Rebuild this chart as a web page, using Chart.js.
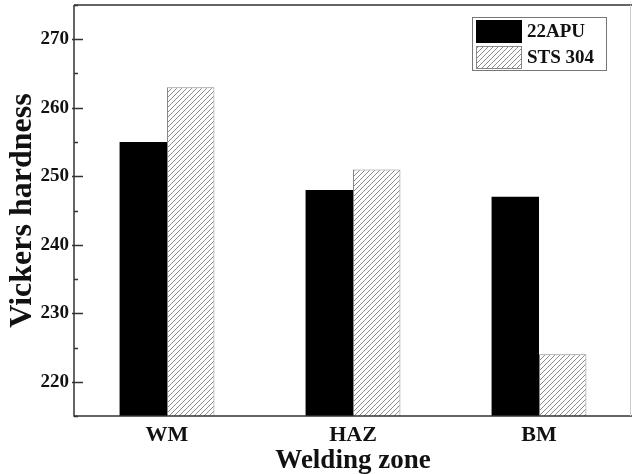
<!DOCTYPE html>
<html>
<head>
<meta charset="utf-8">
<script src="https://cdn.jsdelivr.net/npm/chart.js@4"></script>
<style>
  html, body { margin: 0; padding: 0; background: #fff; }
  #wrap { width: 632px; height: 474px; }
</style>
</head>
<body>
<div id="wrap"><canvas id="chart" width="632" height="474"></canvas></div>
<script>
const zones = ['WM', 'HAZ', 'BM'];
const apu22 = [255, 248, 247];
const sts304 = [263, 251, 224];
const seriesNames = ['22APU', 'STS 304'];
const yTicks = [215, 220, 225, 230, 235, 240, 245, 250, 255, 260, 265, 270, 275];

function hatch() {
    const c = document.createElement('canvas');
    c.width = 5; c.height = 5;
    const g = c.getContext('2d');
    g.fillStyle = '#fff';
    g.fillRect(0, 0, 5, 5);
    g.strokeStyle = '#8a8a8a';
    g.lineWidth = 1;
    g.beginPath();
    g.moveTo(-1, 6); g.lineTo(6, -1);
    g.moveTo(-3, 3); g.lineTo(3, -3);
    g.moveTo(2, 8); g.lineTo(8, 2);
    g.stroke();
    return g.createPattern(c, 'repeat');
}

const frame = {
    id: 'frame',
    afterDraw(chart) {
        const { ctx, chartArea: a } = chart;
        const y = chart.scales.y;
        ctx.save();
        ctx.strokeStyle = '#333';
        ctx.lineWidth = 1.5;
        ctx.beginPath();
        ctx.moveTo(a.left, a.top); ctx.lineTo(a.right, a.top);
        ctx.moveTo(a.left, a.top); ctx.lineTo(a.left, a.bottom); ctx.lineTo(a.right, a.bottom);
        ctx.stroke();
        ctx.strokeStyle = '#ccc';
        ctx.lineWidth = 1;
        ctx.beginPath();
        ctx.moveTo(a.right - 1.5, a.top); ctx.lineTo(a.right - 1.5, a.bottom);
        ctx.stroke();

        // inward ticks
        ctx.strokeStyle = '#333';
        ctx.lineWidth = 1.3;
        ctx.beginPath();
        yTicks.forEach(v => {
            const py = Math.round(y.getPixelForValue(v)) + 0.5;
            const major = v % 10 === 0;
            ctx.moveTo(a.left - (major ? 2 : 0), py);
            ctx.lineTo(a.left + (major ? 9 : 4), py);
        });
        ctx.stroke();

        // legend box
        const lx = 472, ly = 17, w = 134, h = 53;
        ctx.fillStyle = '#fff';
        ctx.fillRect(lx, ly, w, h);
        ctx.strokeStyle = '#777';
        ctx.lineWidth = 1;
        ctx.strokeRect(lx + 0.5, ly + 0.5, w, h);
        chart.data.datasets.forEach((ds, i) => {
            const sy = ly + 3 + i * 26;
            ctx.fillStyle = ds.backgroundColor;
            ctx.fillRect(lx + 4, sy, 45, 22);
            ctx.strokeStyle = ds.borderColor;
            ctx.strokeRect(lx + 4.5, sy + 0.5, 45, 22);
            ctx.fillStyle = '#111';
            ctx.font = 'bold 19px "Liberation Serif"';
            ctx.textBaseline = 'middle';
            ctx.fillText(ds.label, lx + 55, sy + 12);
        });
        ctx.restore();
    }
};

new Chart(document.getElementById('chart'), {
    type: 'bar',
    data: {
        labels: zones,
        datasets: [
            { label: seriesNames[0], data: apu22, backgroundColor: '#000', borderColor: '#000', borderWidth: 0 },
            { label: seriesNames[1], data: sts304, backgroundColor: hatch(), borderColor: '#888', borderWidth: 1 }
        ]
    },
    options: {
        responsive: false,
        animation: false,
        layout: { padding: { top: 5, right: 0, left: 0, bottom: 0 } },
        datasets: { bar: { categoryPercentage: 0.51, barPercentage: 1 } },
        plugins: { legend: { display: false }, tooltip: { enabled: false } },
        scales: {
            x: {
                grid: { display: false },
                border: { display: false },
                ticks: { color: '#111', font: { family: 'Liberation Serif', size: 22, weight: 'bold' }, padding: -2 },
                title: { display: true, text: 'Welding zone', color: '#111', font: { family: 'Liberation Serif', size: 27, weight: 'bold' }, padding: { top: 0, bottom: -3 } },
                afterFit(s) { s.height = 58; s.paddingLeft = 0; s.paddingRight = 0; }
            },
            y: {
                min: 215,
                max: 275,
                afterBuildTicks(s) { s.ticks = yTicks.map(v => ({ value: v })); },
                grid: { drawOnChartArea: false, drawTicks: false },
                border: { display: false },
                ticks: {
                    color: '#111',
                    padding: 5,
                    font: { family: 'Liberation Serif', size: 19, weight: 'bold' },
                    callback: v => (v % 10 === 0 ? v : '')
                },
                title: { display: true, text: 'Vickers hardness', color: '#111', font: { family: 'Liberation Serif', size: 32, weight: 'bold' }, padding: { top: 4, bottom: 0 } },
                afterFit(s) { s.width = 74; s.paddingTop = 0; s.paddingBottom = 0; }
            }
        }
    },
    plugins: [frame]
});
</script>
</body>
</html>
